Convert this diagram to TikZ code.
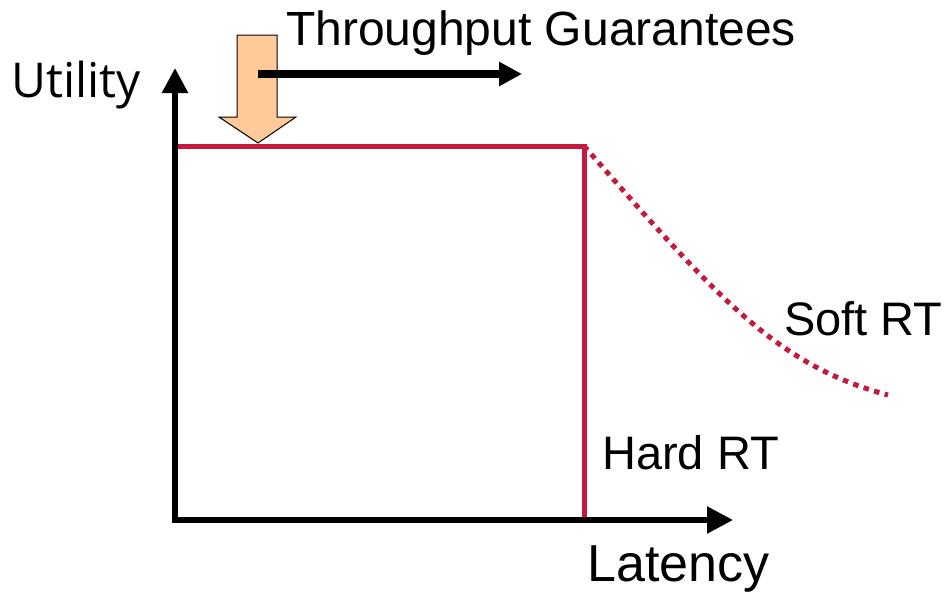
\documentclass[tikz,border=0pt]{standalone}
\usepackage{fontspec}
\setmainfont{Liberation Sans}
\newfontfamily\labelfont{Open Sans}
\usetikzlibrary{arrows.meta}
\definecolor{curvered}{RGB}{196,26,60}
\definecolor{hintorange}{RGB}{255,202,152}
\tikzset{
  axisline/.style={line width=5.5pt, line join=miter,
    {Triangle[length=25pt,width=25pt]}-{Triangle[length=26pt,width=26pt]}},
  utilline/.style={curvered, line width=5pt, line join=miter},
  softline/.style={curvered, line width=5pt, dash pattern=on 5.5pt off 5.5pt},
  blockarrow/.style={fill=hintorange, draw=black, line width=1pt, line join=miter},
  trendarrow/.style={line width=7.5pt, -{Triangle[length=23pt,width=23pt]}},
  lbl/.style={inner sep=0pt, anchor=base west, font=\fontsize{47pt}{50pt}\selectfont}
}
\begin{document}
\begin{tikzpicture}[x=1pt,y=-1pt]
\useasboundingbox (0,0) rectangle (947,592);

% axis end points and curve corners
\coordinate (ytop) at (175,68);
\coordinate (origin) at (175,520);
\coordinate (xend) at (733,520);
\coordinate (ustart) at (175,146);
\coordinate (knee) at (584,146);
\coordinate (kneefoot) at (584,520);
\coordinate (softend) at (888,395);

% utility curve: flat, then hard drop / soft decay
\draw[utilline] (ustart) -- (knee) -- (kneefoot);
\draw[softline] (knee) .. controls (715,295) and (775,365) .. (softend);

% axes
\draw[axisline] (ytop) -- (origin) -- (xend);

% downward block arrow
\draw[blockarrow] (237,35) -- (277,35) -- (277,117) -- (296,117)
  -- (258,143) -- (219,117) -- (237,117) -- cycle;
\coordinate (tstart) at (258,74);
\coordinate (tend) at (522,74);
\draw[trendarrow] (tstart) -- (tend);

% labels
\node[lbl, font=\fontsize{48pt}{50pt}\selectfont] (thr) at (286,45) {Throughput Guarantees};
\node[lbl, font=\labelfont\fontsize{48pt}{50pt}\selectfont] (util) at (11,97) {Utility};
\node[lbl, font=\fontsize{52pt}{54pt}\selectfont] (lat) at (587,581) {Latency};
\node[lbl] (hard) at (602,469) {Hard RT};
\node[lbl] (soft) at (784,335) {Soft RT};
\end{tikzpicture}
\end{document}
